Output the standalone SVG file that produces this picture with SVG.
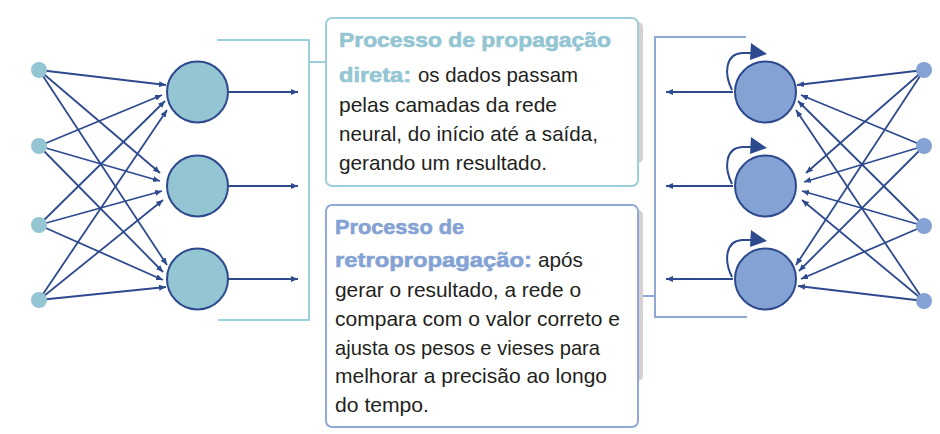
<svg xmlns="http://www.w3.org/2000/svg" width="940" height="434" viewBox="0 0 940 434">
<defs>
<marker id="ah" markerUnits="userSpaceOnUse" markerWidth="8" markerHeight="8" viewBox="0 0 8 8" refX="7" refY="4" orient="auto">
<path d="M0,1 L7,4 L0,7 Z" fill="#2E4A8E"/>
</marker>
<style>
.e{stroke:#2E4A8E;stroke-width:1.8;fill:none;marker-end:url(#ah)}
.o{stroke:#2E4A8E;stroke-width:2;fill:none;marker-end:url(#ah)}
.loop{stroke:#2E4A8E;stroke-width:2;fill:none}
.hl{fill:#93C5D2;stroke:#2E4A8E;stroke-width:2}
.hr{fill:#84A2D4;stroke:#2E4A8E;stroke-width:2}
.il{fill:#93C5D2}
.ir{fill:#84A2D4}
.bl{fill:none;stroke:#9DCFDA;stroke-width:2}
.br{fill:none;stroke:#8FA8D8;stroke-width:2}
.sh{fill:#D8CFD0}
.t{font-family:"Liberation Sans",Arial,sans-serif;font-size:21px;fill:#231F20}
.b{font-family:"Liberation Sans",Arial,sans-serif;font-size:21px;font-weight:bold;stroke-width:0.6}
.tb{fill:#93C5D2;stroke:#93C5D2}
.bb{fill:#84A2D4;stroke:#84A2D4}
</style>
</defs>
<rect width="940" height="434" fill="#FFFFFF"/>

<g id="connectors">
<!-- left edges -->
<line class="e" x1="39" y1="70" x2="166" y2="85"/>
<line class="e" x1="39" y1="146" x2="162" y2="95"/>
<line class="e" x1="39" y1="225" x2="165" y2="101"/>
<line class="e" x1="39" y1="300" x2="167" y2="110"/>
<line class="e" x1="39" y1="70" x2="160" y2="173"/>
<line class="e" x1="39" y1="146" x2="160" y2="181"/>
<line class="e" x1="39" y1="225" x2="162" y2="191"/>
<line class="e" x1="39" y1="300" x2="163" y2="200"/>
<line class="e" x1="39" y1="70" x2="167" y2="265"/>
<line class="e" x1="39" y1="146" x2="163" y2="272"/>
<line class="e" x1="39" y1="225" x2="163" y2="280"/>
<line class="e" x1="39" y1="300" x2="166" y2="287"/>
<!-- left outputs -->
<line class="o" x1="228" y1="92" x2="298" y2="92"/>
<line class="o" x1="228" y1="186" x2="298" y2="186"/>
<line class="o" x1="228" y1="279" x2="298" y2="279"/>
<!-- left bracket -->
<polyline class="bl" points="217,40 309,40 309,320 218,320"/>
<line class="bl" x1="309" y1="62" x2="326" y2="62"/>
<!-- right edges -->
<line class="e" x1="924" y1="70" x2="797" y2="85"/>
<line class="e" x1="924" y1="146" x2="801" y2="95"/>
<line class="e" x1="924" y1="226" x2="798" y2="101"/>
<line class="e" x1="924" y1="301" x2="796" y2="110"/>
<line class="e" x1="924" y1="70" x2="806" y2="173"/>
<line class="e" x1="924" y1="146" x2="804" y2="182"/>
<line class="e" x1="924" y1="226" x2="802" y2="191"/>
<line class="e" x1="924" y1="301" x2="802" y2="200"/>
<line class="e" x1="924" y1="70" x2="796" y2="265"/>
<line class="e" x1="924" y1="146" x2="799" y2="271"/>
<line class="e" x1="924" y1="226" x2="801" y2="279"/>
<line class="e" x1="924" y1="301" x2="798" y2="286"/>
<!-- right outputs -->
<line class="o" x1="733" y1="92" x2="666" y2="92"/>
<line class="o" x1="733" y1="186" x2="666" y2="186"/>
<line class="o" x1="733" y1="279" x2="666" y2="279"/>
<!-- self loops -->
<path class="loop" d="M732,90 C724,74 725,54 742,53 L752,53"/>
<path d="M751,43 L767,54 L750,60 Z" fill="#2E4A8E"/>
<path class="loop" d="M732,184 C724,168 725,148 742,147 L752,147"/>
<path d="M751,137 L767,148 L750,154 Z" fill="#2E4A8E"/>
<path class="loop" d="M732,277 C724,261 725,241 742,240 L752,240"/>
<path d="M751,230 L767,241 L750,247 Z" fill="#2E4A8E"/>
<!-- right bracket -->
<polyline class="br" points="746,37 655,37 655,317 747,317"/>
<line class="br" x1="638" y1="296" x2="655" y2="296"/>
</g>

<g id="left-inputs">
<circle class="il" cx="39" cy="70" r="8"/>
<circle class="il" cx="39" cy="146" r="8"/>
<circle class="il" cx="39" cy="225" r="8"/>
<circle class="il" cx="39" cy="300" r="8"/>
</g>
<g id="left-hidden">
<circle class="hl" cx="197.5" cy="92" r="30.5"/>
<circle class="hl" cx="197.5" cy="186" r="30.5"/>
<circle class="hl" cx="197.5" cy="279" r="30.5"/>
</g>
<g id="right-inputs">
<circle class="ir" cx="924" cy="70" r="8"/>
<circle class="ir" cx="924" cy="146" r="8"/>
<circle class="ir" cx="924" cy="226" r="8"/>
<circle class="ir" cx="924" cy="301" r="8"/>
</g>
<g id="right-hidden">
<circle class="hr" cx="765.5" cy="92" r="30.5"/>
<circle class="hr" cx="765.5" cy="186" r="30.5"/>
<circle class="hr" cx="765.5" cy="279" r="30.5"/>
</g>

<g id="box-forward">
<rect class="sh" x="332" y="22" width="311" height="141" rx="5"/>
<rect x="326" y="18" width="312" height="168" rx="6" fill="#FFFFFF" stroke="#9DCFDA" stroke-width="2"/>
<text class="b tb" x="339" y="47" textLength="272" lengthAdjust="spacingAndGlyphs">Processo de propagação</text>
<text class="b tb" x="339" y="82" textLength="72" lengthAdjust="spacingAndGlyphs">direta:</text>
<text class="t" x="418" y="82" textLength="160" lengthAdjust="spacingAndGlyphs">os dados passam</text>
<text class="t" x="339" y="111.5" textLength="218" lengthAdjust="spacingAndGlyphs">pelas camadas da rede</text>
<text class="t" x="339" y="141" textLength="259" lengthAdjust="spacingAndGlyphs">neural, do início até a saída,</text>
<text class="t" x="339" y="169.5" textLength="208" lengthAdjust="spacingAndGlyphs">gerando um resultado.</text>
</g>

<g id="box-backprop">
<rect class="sh" x="332" y="210" width="311" height="171" rx="5"/>
<rect x="326" y="205" width="312" height="222" rx="6" fill="#FFFFFF" stroke="#8FA8D8" stroke-width="2"/>
<text class="b bb" x="335" y="234" textLength="129" lengthAdjust="spacingAndGlyphs">Processo de</text>
<text class="b bb" x="335" y="267" textLength="197" lengthAdjust="spacingAndGlyphs">retropropagação:</text>
<text class="t" x="538" y="267" textLength="45" lengthAdjust="spacingAndGlyphs">após</text>
<text class="t" x="335" y="297" textLength="246" lengthAdjust="spacingAndGlyphs">gerar o resultado, a rede o</text>
<text class="t" x="335" y="326" textLength="285" lengthAdjust="spacingAndGlyphs">compara com o valor correto e</text>
<text class="t" x="335" y="355" textLength="265" lengthAdjust="spacingAndGlyphs">ajusta os pesos e vieses para</text>
<text class="t" x="335" y="383" textLength="272" lengthAdjust="spacingAndGlyphs">melhorar a precisão ao longo</text>
<text class="t" x="335" y="412" textLength="94" lengthAdjust="spacingAndGlyphs">do tempo.</text>
</g>
</svg>
